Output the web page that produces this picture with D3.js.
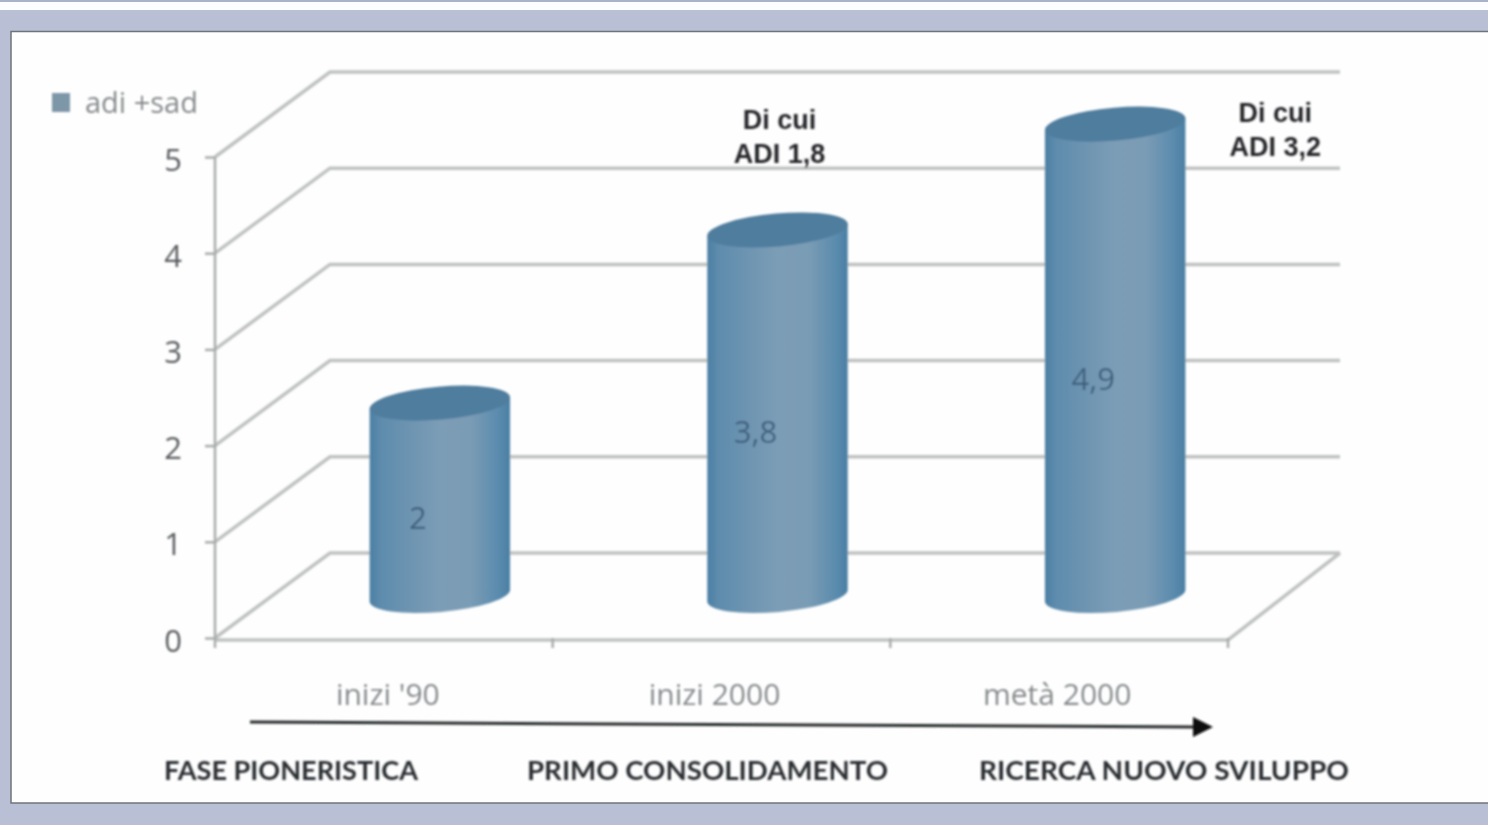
<!DOCTYPE html>
<html><head><meta charset="utf-8">
<script src="https://cdn.jsdelivr.net/npm/d3@7"></script>
<style>html,body{margin:0;padding:0;background:#fff;overflow:hidden}svg{display:block}</style>
</head><body><svg id="c" width="1488" height="825"></svg>
<script>
const categories = ["inizi '90", "inizi 2000", "metà 2000"];
const values = [2, 3.8, 4.9];
const valueLabels = ["2", "3,8", "4,9"];
const yTicks = [0, 1, 2, 3, 4, 5];
const seriesName = "adi +sad";
const notes = [null, ["Di cui", "ADI 1,8"], ["Di cui", "ADI 3,2"]];
const phases = ["FASE PIONERISTICA", "PRIMO CONSOLIDAMENTO", "RICERCA NUOVO SVILUPPO"];

const W = 1488, H = 825;
const svg = d3.select("#c").attr("viewBox", [0, 0, W, H]);
const defs = svg.append("defs");
defs.append("filter").attr("id", "soft").attr("filterUnits", "userSpaceOnUse")
  .attr("x", 0).attr("y", 0).attr("width", W).attr("height", H)
  .append("feGaussianBlur").attr("stdDeviation", 1.1);
const grad = defs.append("linearGradient").attr("id", "cyl").attr("x1", "0").attr("x2", "1").attr("y1", "0").attr("y2", "0");
[[0, "#4a7fa4"], [0.08, "#5f8cad"], [0.5, "#7c9db6"], [0.72, "#7a9cb5"], [0.92, "#5a8bad"], [1, "#4a7fa3"]]
  .forEach(([o, c]) => grad.append("stop").attr("offset", o).attr("stop-color", c));

// page frame
svg.append("rect").attr("width", W).attr("height", H).attr("fill", "#fbfdfe");
svg.append("rect").attr("width", W).attr("height", 2).attr("fill", "#a9b2cb");
svg.append("rect").attr("y", 10).attr("width", W).attr("height", H - 10).attr("fill", "#b9c0d6");
svg.append("rect").attr("x", 11).attr("y", 31.5).attr("width", W).attr("height", 771.5)
  .attr("fill", "#fefefe").attr("stroke", "#6f7478").attr("stroke-width", 1.5);

const g = svg.append("g").attr("filter", "url(#soft)");

// scales
const x = d3.scaleBand().domain(categories).range([215, 1228]).paddingInner(0).paddingOuter(0);
const y = d3.scaleLinear().domain([0, 5]).range([638, 157]);
const depth = { dx: 115, dy: -85 };
const gridColor = "#bfc1c1";

// gridlines: side wall + back wall
const wall = d3.line();
yTicks.forEach(t => {
  const y0 = y(t);
  g.append("path")
    .attr("d", wall([[x.range()[0], y0], [x.range()[0] + depth.dx, y0 + depth.dy], [1340, y0 + depth.dy]]))
    .attr("fill", "none").attr("stroke", gridColor).attr("stroke-width", 3.5);
});
// floor
g.append("path").attr("d", wall([[x.range()[0], y(0) + 2], [x.range()[1], y(0) + 2], [1340, y(0) + depth.dy]]))
  .attr("fill", "none").attr("stroke", gridColor).attr("stroke-width", 3.5);

// y axis
const yAxis = d3.axisLeft(y).tickValues(yTicks).tickSize(10).tickPadding(23).tickFormat(d3.format("d"));
const ya = g.append("g").attr("transform", `translate(${x.range()[0]},0)`).call(yAxis);
ya.selectAll("path,line").attr("stroke", "#a8abab").attr("stroke-width", 2.5);
ya.select(".domain").attr("d", `M0,${y(5)}V${y(0)}`);
ya.selectAll("text").attr("font-family", "'Open Sans'").attr("font-size", 31).attr("fill", "#595c5e").attr("dy", "0.42em");

// x axis ticks
const xEdges = [...categories.map(c => x(c)), x.range()[1]];
g.selectAll(".xt").data(xEdges).join("line").attr("class", "xt")
  .attr("x1", d => d).attr("x2", d => d).attr("y1", y(0)).attr("y2", y(0) + 10)
  .attr("stroke", "#a8abab").attr("stroke-width", 2.5);

// category labels
const catDx = [4, -7, -2];
g.selectAll(".cat").data(categories).join("text").attr("class", "cat")
  .attr("x", (d, i) => x(d) + x.bandwidth() / 2 + catDx[i])
  .attr("y", 705).attr("text-anchor", "middle")
  .attr("font-family", "'Open Sans'").attr("font-size", 30).attr("fill", "#85898b").text(d => d);

// cylinders
const rx = 70.5, ry = 16.5, tilt = -5;
const rad = tilt * Math.PI / 180;
const cyl = g.selectAll(".bar").data(values).join("g").attr("class", "bar");
function cx(i) { return x(categories[i]) + x.bandwidth() / 2 + depth.dx / 2 - 1.5; }
function cy(v) { return y(v) + depth.dy / 2; }
cyl.each(function (v, i) {
  const c = cx(i), top = cy(v), bot = cy(0);
  const ex = rx * Math.cos(rad), ey = rx * Math.sin(rad);
  const s = d3.select(this);
  s.append("path")
    .attr("d", `M${c - ex},${top - ey}L${c - ex},${bot - ey}A${rx},${ry} ${tilt} 0 0 ${c + ex},${bot + ey}L${c + ex},${top + ey}Z`)
    .attr("fill", "url(#cyl)");
  s.append("ellipse").attr("transform", `translate(${c},${top}) rotate(${tilt})`)
    .attr("rx", rx).attr("ry", ry).attr("fill", "#4f7d9e");
  s.append("text").attr("x", c - 22).attr("y", (top + bot) / 2 + 30)
    .attr("text-anchor", "middle").attr("font-family", "'Open Sans'").attr("font-size", 31)
    .attr("fill", "#3d5f7c").text(valueLabels[i]);
});

// annotations
notes.forEach((n, i) => {
  if (!n) return;
  const nx = i === 1 ? cx(i) + 2 : cx(i) + 160;
  const ny = y(values[i]) + (i === 1 ? -143 : -45);
  n.forEach((line, k) => g.append("text").attr("x", nx).attr("y", ny + k * 34)
    .attr("text-anchor", "middle").attr("font-family", "'Liberation Sans'").attr("font-weight", 700)
    .attr("font-size", 27).attr("fill", "#26282a").text(line));
});

// legend
g.append("rect").attr("x", 52).attr("y", 93).attr("width", 18).attr("height", 19).attr("fill", "#7d96a8");
g.append("text").attr("x", 85).attr("y", 113).attr("font-family", "'Open Sans'").attr("font-size", 29)
  .attr("fill", "#85898b").text(seriesName);

// arrow
g.append("path").attr("d", "M250,722L1196,727").attr("stroke", "#26292b").attr("stroke-width", 3).attr("fill", "none");
g.append("path").attr("d", "M1193,717L1213,727L1193,737Z").attr("fill", "#111");

// phase labels
const phaseX = [164, 527, 979];
const phaseW = [254, 361, 370];
g.selectAll(".ph").data(phases).join("text").attr("class", "ph")
  .attr("x", (d, i) => phaseX[i]).attr("y", 780)
  .attr("textLength", (d, i) => phaseW[i]).attr("lengthAdjust", "spacingAndGlyphs")
  .attr("font-family", "Lato").attr("font-weight", 700).attr("font-size", 27).attr("fill", "#2c2f32").text(d => d);
</script></body></html>
